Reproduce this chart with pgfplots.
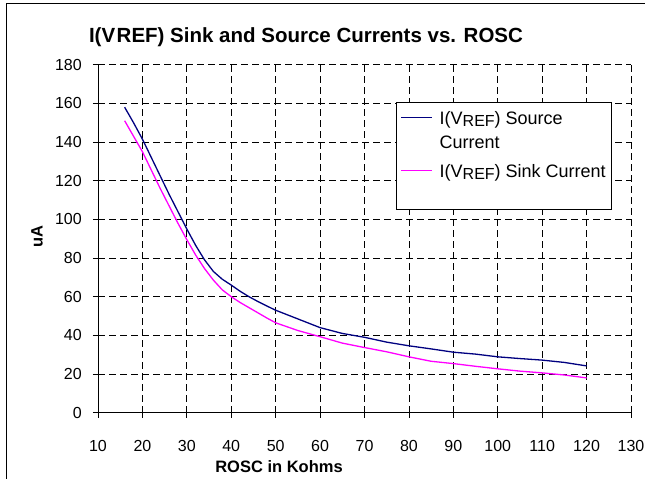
\documentclass[border=0pt]{standalone}
\usepackage{pgfplots}
\pgfplotsset{compat=1.18}
\usepackage{fontspec}
\setmainfont{Liberation Sans}
\definecolor{navyc}{RGB}{0,0,128}
\definecolor{magc}{RGB}{255,0,255}
\newcommand\tickfont{\fontsize{16bp}{19bp}\selectfont}
\newcommand\vref{V\raisebox{-2.5bp}{\fontsize{16bp}{16bp}\selectfont REF}}
\begin{document}
\begin{tikzpicture}
\useasboundingbox (0,0) rectangle (645bp,479bp);
\draw[black, line width=1.2bp] (6.5bp,0) -- (6.5bp,475.7bp) -- (645bp,475.7bp);
\begin{axis}[
  at={(98bp,66.3bp)}, anchor=south west,
  scale only axis, width=533bp, height=348bp,
  xmin=10, xmax=130, ymin=0, ymax=180,
  xtick={10,20,...,130}, ytick={0,20,...,180},
  axis lines=left, axis line style={-, black, line width=1bp},
  grid=major,
  major grid style={black, dash pattern=on 7bp off 4bp, line width=0.8bp},
  tick align=outside, major tick length=5bp,
  tick style={black, line width=0.8bp},
  /pgf/number format/assume math mode=true,
  tick label style={font=\tickfont},
  xticklabel style={anchor=center, yshift=-28bp},
  yticklabel style={anchor=east, xshift=-7.7bp},
  xlabel={\textbf{ROSC in Kohms}}, ylabel={\textbf{uA}},
  label style={font=\fontsize{16.5bp}{19bp}\selectfont},
  xlabel style={at={(axis description cs:0.3396,-0.156)}, anchor=center},
  ylabel style={at={(axis description cs:-0.1144,0.505)}, anchor=center},
  legend style={at={(axis description cs:0.5591,0.8928)}, anchor=north west,
    draw=black, line width=0.8bp, fill=white, font=\fontsize{18bp}{22bp}\selectfont,
    cells={anchor=base west}, inner xsep=4bp, inner ysep=2bp, row sep=3bp,
    nodes={inner sep=2bp}},
  legend image code/.code={\draw[#1] (0bp,7bp) -- (31bp,7bp); \path (36bp,7bp);},
]
\addplot[color=navyc, line width=1.3bp] table {
x y
16 158
18 150
20 141.5
22 132
24 122.5
26 113
28 104
30 95
32 86.5
34 79
36 73
38 69
40 66
42 62.8
44 60
46 57.5
48 55.2
50 53
55 48.5
60 44
65 41
70 39
75 36.5
80 34.6
85 33
90 31.3
95 30.3
100 28.9
105 28
110 27.2
115 26
120 24.2
};
\addlegendentry{\rule[-5bp]{0pt}{23bp}I(\vref) Source}
\addlegendimage{empty legend}
\addlegendentry{\rule[-5bp]{0pt}{21bp}Current}
\addplot[color=magc, line width=1.3bp] table {
x y
16 151
18 143
20 135
22 125.5
24 116
26 107
28 98
30 89.5
32 81.5
34 74.5
36 68.5
38 63.5
40 60
42 57
45 53
48 49
50 46.5
55 42.5
60 39.3
65 36
70 33.7
75 31.5
80 28.9
85 26.6
90 25.4
95 24
100 22.7
105 21.5
110 20.6
115 19.5
120 18
};
\addlegendentry{\rule[-5bp]{0pt}{25bp}I(\vref) Sink Current}
\addlegendimage{empty legend}
\addlegendentry{\rule{0pt}{18bp}}
\end{axis}
\node[font=\bfseries\fontsize{20.5bp}{24bp}\selectfont] at (306bp,442bp) {I(V\hspace{1.5bp}REF) Sink and Source Currents vs. ROSC};
\end{tikzpicture}
\end{document}
